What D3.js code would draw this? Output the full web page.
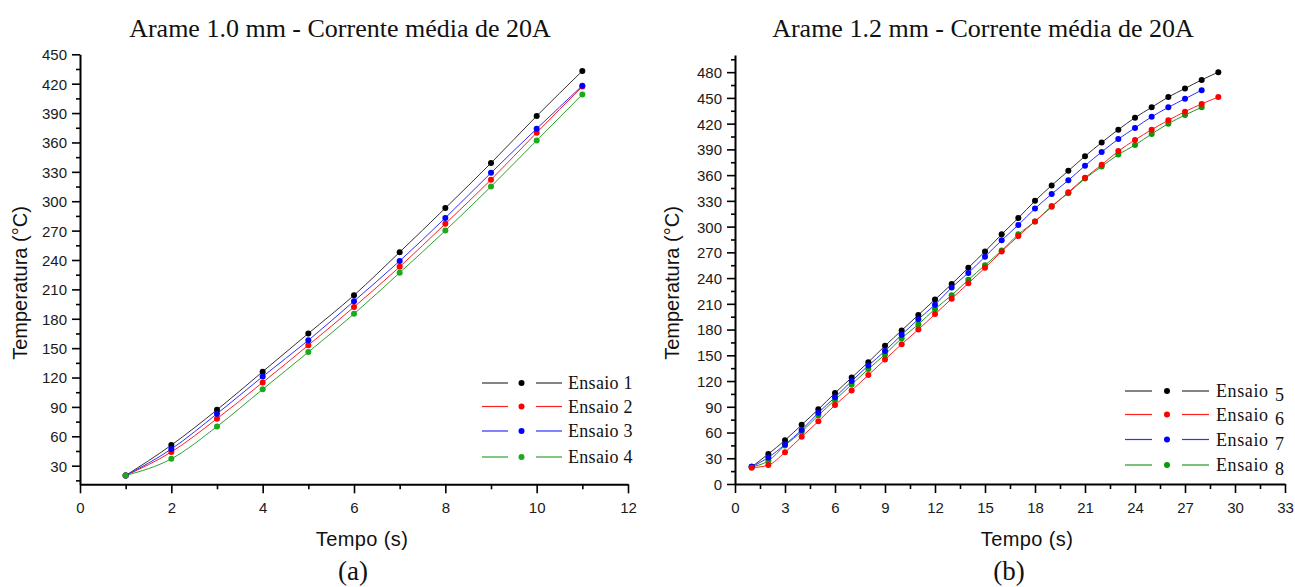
<!DOCTYPE html>
<html>
<head>
<meta charset="utf-8">
<script src="https://cdn.jsdelivr.net/npm/d3@7"></script>
<style>
  html, body { margin: 0; padding: 0; background: #fff; }
  svg { display: block; }
</style>
</head>
<body>
<svg id="chart" width="1295" height="587"></svg>
<script>
// ---- Painel (a): arame 1.0 mm ----
const tempoA = [1, 2, 3, 4, 5, 6, 7, 8, 9, 10, 11];
const ensaio1 = [20, 51, 87, 126, 165, 204, 248, 293, 339, 387, 433];
const ensaio2 = [20, 44, 78, 115, 153, 192, 233, 277, 322, 370, 417];
const ensaio3 = [20, 47, 83, 121, 158, 198, 239, 283, 329, 374, 418];
const ensaio4 = [20, 37, 70, 108, 146, 185, 227, 270, 315, 362, 409];
const ticksXA = [0, 2, 4, 6, 8, 10, 12];
const ticksYA = [30, 60, 90, 120, 150, 180, 210, 240, 270, 300, 330, 360, 390, 420, 450];

// ---- Painel (b): arame 1.2 mm ----
const tempoB = [1, 2, 3, 4, 5, 6, 7, 8, 9, 10, 11, 12, 13, 14, 15, 16, 17, 18, 19, 20, 21, 22, 23, 24, 25, 26, 27, 28, 29];
const ensaio5 = [20, 35, 51, 69, 87, 106, 124, 142, 161, 179, 197, 215, 233, 252, 271, 291, 310, 330, 348, 365, 382, 398, 413, 427, 439, 451, 461, 471, 480];
const ensaio6 = [19, 22, 37, 55, 73, 92, 109, 127, 145, 163, 180, 198, 216, 234, 252, 271, 289, 306, 323, 340, 357, 372, 388, 401, 413, 424, 434, 443, 451];
const ensaio7 = [20, 31, 46, 63, 83, 101, 120, 138, 155, 174, 192, 209, 229, 246, 265, 284, 302, 321, 338, 354, 371, 387, 402, 415, 428, 439, 449, 459];
const ensaio8 = [20, 27, 45, 61, 80, 98, 116, 134, 151, 170, 186, 204, 220, 238, 255, 272, 291, 306, 324, 339, 356, 370, 384, 395, 408, 420, 430, 439];
const ticksXB = [0, 3, 6, 9, 12, 15, 18, 21, 24, 27, 30, 33];
const ticksYB = [0, 30, 60, 90, 120, 150, 180, 210, 240, 270, 300, 330, 360, 390, 420, 450, 480];

const svg = d3.select("#chart");
const SANS = "'Liberation Sans', Arial, sans-serif";
const SERIF = "'Liberation Serif', 'Times New Roman', serif";
const TICK_COLOR = "#1a1a1a";

function midpoints(arr) {
  const out = [];
  for (let i = 0; i < arr.length - 1; i++) out.push((arr[i] + arr[i + 1]) / 2);
  return out;
}

function drawPanel(p) {
  const x = d3.scaleLinear().domain(p.xDomain).range([p.left, p.right]);
  const y = d3.scaleLinear().domain(p.yDomain).range([p.bottom, p.top]);
  const g = svg.append("g");

  // minor ticks
  const xMinor = p.xMinor.filter(v => v > p.xDomain[0] && v < p.xDomain[1]);
  const yMinor = p.yMinor.filter(v => v > p.yDomain[0] && v < p.yDomain[1]);
  g.append("g")
    .attr("transform", `translate(0,${p.bottom})`)
    .call(d3.axisBottom(x).tickValues(xMinor).tickSize(5).tickSizeOuter(0).tickFormat(""))
    .call(a => a.select(".domain").remove())
    .call(a => a.selectAll("line").attr("stroke", "#000").attr("stroke-width", 1.6));
  g.append("g")
    .attr("transform", `translate(${p.left},0)`)
    .call(d3.axisLeft(y).tickValues(yMinor).tickSize(4).tickSizeOuter(0).tickFormat(""))
    .call(a => a.select(".domain").remove())
    .call(a => a.selectAll("line").attr("stroke", "#000").attr("stroke-width", 1.6));

  // major axes
  const ax = g.append("g")
    .attr("transform", `translate(0,${p.bottom})`)
    .call(d3.axisBottom(x).tickValues(p.xTicks).tickSize(9).tickSizeOuter(0).tickFormat(d3.format("d")));
  ax.select(".domain").attr("stroke", "#000").attr("stroke-width", 2);
  ax.selectAll("line").attr("stroke", "#000").attr("stroke-width", 1.6);
  ax.selectAll("text").attr("y", 29).attr("dy", null)
    .attr("font-family", SANS).attr("font-size", 15).attr("fill", TICK_COLOR);

  const ay = g.append("g")
    .attr("transform", `translate(${p.left},0)`)
    .call(d3.axisLeft(y).tickValues(p.yTicks).tickSize(8).tickSizeOuter(0).tickFormat(d3.format("d")));
  ay.select(".domain").attr("stroke", "#000").attr("stroke-width", 2);
  ay.selectAll("line").attr("stroke", "#000").attr("stroke-width", 1.6);
  ay.selectAll("text").attr("x", -13).attr("dy", "0.36em")
    .attr("font-family", SANS).attr("font-size", 15).attr("fill", TICK_COLOR);

  // series
  const line = d3.line().curve(d3.curveMonotoneX);
  p.series.forEach(s => {
    const pts = s.values.map((v, i) => [x(p.tempo[i]), y(v)]);
    g.append("path").attr("d", line(pts))
      .attr("fill", "none").attr("stroke", s.line).attr("stroke-width", 1);
  });
  p.series.forEach(s => {
    g.append("g").selectAll("circle")
      .data(s.values.map((v, i) => [p.tempo[i], v]))
      .join("circle")
      .attr("cx", d => x(d[0])).attr("cy", d => y(d[1]))
      .attr("r", 3).attr("fill", s.color);
  });

  // legend
  const lg = g.append("g");
  p.legendOrder.forEach((s, i) => {
    const ly = p.legend.rows[i];
    const L = p.legend;
    lg.append("line").attr("x1", L.x1).attr("x2", L.x2).attr("y1", ly).attr("y2", ly)
      .attr("stroke", s.line).attr("stroke-width", 1.2);
    lg.append("circle").attr("cx", L.mx).attr("cy", ly).attr("r", 3).attr("fill", s.color);
    lg.append("line").attr("x1", L.x3).attr("x2", L.x4).attr("y1", ly).attr("y2", ly)
      .attr("stroke", s.line).attr("stroke-width", 1.2);
    if (L.numX) {
      lg.append("text").attr("x", L.tx).attr("y", ly + 6)
        .attr("font-family", SERIF).attr("font-size", 18).attr("letter-spacing", "0.6px")
        .attr("fill", "#111").text(s.word);
      lg.append("text").attr("x", L.numX).attr("y", ly + 10)
        .attr("font-family", SERIF).attr("font-size", 18)
        .attr("fill", "#111").text(s.num);
    } else {
      lg.append("text").attr("x", L.tx).attr("y", ly + 6)
        .attr("font-family", SERIF).attr("font-size", 18).attr("letter-spacing", "0.3px")
        .attr("fill", "#111").text(s.word + " " + s.num);
    }
  });

  // titles and axis labels
  g.append("text").attr("x", p.titleX).attr("y", 37).attr("text-anchor", "middle")
    .attr("font-family", SERIF).attr("font-size", 26).attr("fill", "#111").text(p.title);
  g.append("text").attr("x", p.xLabelX).attr("y", 546).attr("text-anchor", "middle")
    .attr("font-family", SANS).attr("font-size", 20).attr("letter-spacing", "0.4px")
    .attr("fill", "#111").text("Tempo (s)");
  g.append("text").attr("transform", `translate(${p.yLabelX},283) rotate(-90)`)
    .attr("text-anchor", "middle").attr("dy", "0.35em")
    .attr("font-family", SANS).attr("font-size", 20).attr("fill", "#111")
    .text("Temperatura (°C)");
  g.append("text").attr("x", p.tagX).attr("y", 580).attr("text-anchor", "middle")
    .attr("font-family", SERIF).attr("font-size", 27).attr("fill", "#111").text(p.tag);
}

const BLACK = { color: "#000", line: "#333" };
const RED = { color: "#ff0000", line: "#ff2020" };
const BLUE = { color: "#0000ff", line: "#3030ff" };
const GREEN_A = { color: "#1aaa1a", line: "#30a030" };
const GREEN_B = { color: "#0a9a0a", line: "#229a22" };

const s1 = { ...BLACK, values: ensaio1, word: "Ensaio", num: "1" };
const s2 = { ...RED, values: ensaio2, word: "Ensaio", num: "2" };
const s3 = { ...BLUE, values: ensaio3, word: "Ensaio", num: "3" };
const s4 = { ...GREEN_A, values: ensaio4, word: "Ensaio", num: "4" };
const s5 = { ...BLACK, values: ensaio5, word: "Ensaio", num: "5" };
const s6 = { ...RED, values: ensaio6, word: "Ensaio", num: "6" };
const s7 = { ...BLUE, values: ensaio7, word: "Ensaio", num: "7" };
const s8 = { ...GREEN_B, values: ensaio8, word: "Ensaio", num: "8" };

drawPanel({
  tempo: tempoA,
  xDomain: [0, 12], yDomain: [11, 450],
  left: 80, right: 628, top: 54.3, bottom: 484.3,
  xTicks: ticksXA, yTicks: ticksYA,
  xMinor: midpoints(ticksXA), yMinor: [15].concat(midpoints(ticksYA)),
  series: [s1, s2, s3, s4],
  legendOrder: [s1, s2, s3, s4],
  legend: { x1: 482, x2: 508, mx: 521.5, x3: 536, x4: 562, tx: 568, rows: [383, 406.5, 431, 457] },
  title: "Arame 1.0 mm - Corrente média de 20A", titleX: 340,
  xLabelX: 362, yLabelX: 20, tagX: 353, tag: "(a)"
});

drawPanel({
  tempo: tempoB,
  xDomain: [0, 33], yDomain: [0, 500],
  left: 735, right: 1285, top: 55, bottom: 484,
  xTicks: ticksXB, yTicks: ticksYB,
  xMinor: midpoints(ticksXB), yMinor: midpoints(ticksYB).concat([495]),
  series: [s5, s8, s7, s6],
  legendOrder: [s5, s6, s7, s8],
  legend: { x1: 1125, x2: 1152, mx: 1167, x3: 1182, x4: 1209, tx: 1216, numX: 1275, rows: [391, 414.5, 439.5, 465] },
  title: "Arame 1.2 mm - Corrente média de 20A", titleX: 983,
  xLabelX: 1027, yLabelX: 672, tagX: 1009, tag: "(b)"
});
</script>
</body>
</html>
